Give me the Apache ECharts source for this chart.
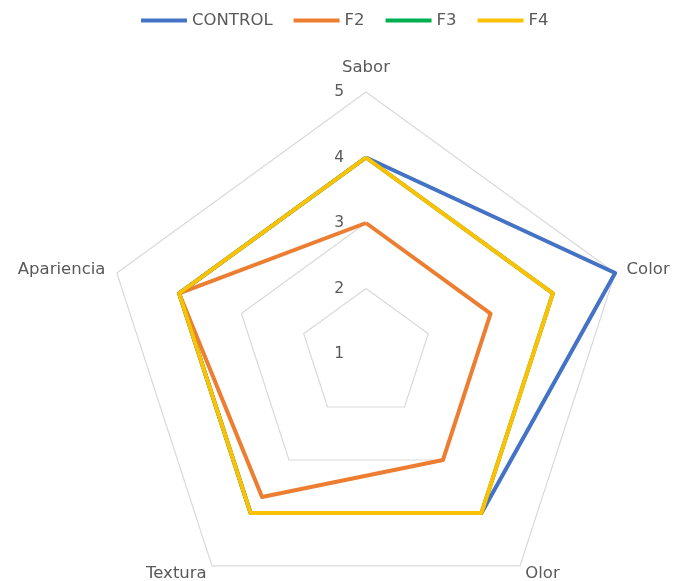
<!DOCTYPE html>
<html><head><meta charset="utf-8">
<script src="https://cdn.jsdelivr.net/npm/echarts@6/dist/echarts.min.js"></script>
<style>html,body{margin:0;padding:0;background:#fff}#c{width:674px;height:581px}</style>
</head><body><div id="c"></div>
<script>
// indicators listed in ECharts' (counter-clockwise) drawing order so they appear clockwise as in the reference
const indicators = ['Sabor','Apariencia','Textura','Olor','Color'];
const seriesNames = ['CONTROL','F2','F3','F4'];
const control = [4, 4, 4, 4, 5];
const f2 = [3, 4, 3.7, 3, 3];
const f3 = [4, 4, 4, 4, 4];
const f4 = [4, 4, 4, 4, 4];
const colors = ['#4472C4','#ED7D31','#00B050','#FFC000'];
const values = [control, f2, f3, f4];
const nameGaps = [16, 12, 9, 9, 12];
const FONT = 'DejaVu Sans';
const chart = echarts.init(document.getElementById('c'));
chart.setOption({
  animation:false,
  legend:{top:7,left:136,itemWidth:46,itemHeight:4,itemGap:21,icon:'rect',
    textStyle:{fontFamily:FONT,fontSize:16.5,color:'#595959'},data:seriesNames},
  radar:{
    center:[366,354], radius:262, shape:'polygon', splitNumber:4, startAngle:90,
    indicator: indicators.map((n,i)=>({name:n,min:1,max:5,nameGap:nameGaps[i],axisLabel:{show:i===0}})),
    axisName:{fontFamily:FONT,fontSize:16.5,color:'#595959'},
    nameGap:12,
    axisLine:{show:false},
    axisTick:{show:false},
    axisLabel:{show:false,fontFamily:FONT,fontSize:15.5,color:'#595959',margin:22,padding:[4,0,0,0]},
    splitLine:{lineStyle:{color:'#D9D9D9',width:1.2}},
    splitArea:{show:false}
  },
  series:[{type:'radar',symbol:'none',
    data: seriesNames.map((n,i)=>({name:n,value:values[i],
      lineStyle:{color:colors[i],width:4},itemStyle:{color:colors[i]}}))}]
});
</script></body></html>
